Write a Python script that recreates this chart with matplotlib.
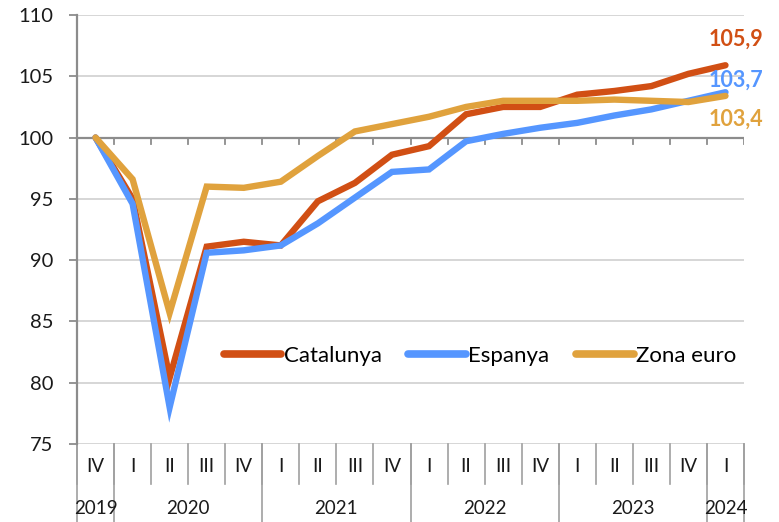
import matplotlib
matplotlib.use('Agg')
import matplotlib.pyplot as plt

plt.rcParams['font.family'] = ['Lato', 'DejaVu Sans']

quarters = ['IV', 'I', 'II', 'III', 'IV', 'I', 'II', 'III', 'IV',
            'I', 'II', 'III', 'IV', 'I', 'II', 'III', 'IV', 'I']
years = ['2019', '2020', '2021', '2022', '2023', '2024']
year_span = [1, 4, 4, 4, 4, 1]   # quarters per year

catalunya = [100.0, 95.0, 80.4, 91.1, 91.5, 91.2, 94.8, 96.3, 98.6,
             99.3, 101.9, 102.5, 102.5, 103.5, 103.8, 104.2, 105.2, 105.9]
espanya = [100.0, 94.6, 78.0, 90.6, 90.8, 91.2, 93.0, 95.1, 97.2,
           97.4, 99.7, 100.3, 100.8, 101.2, 101.8, 102.3, 103.0, 103.7]
zona_euro = [100.0, 96.6, 85.7, 96.0, 95.9, 96.4, 98.5, 100.5, 101.1,
             101.7, 102.5, 103.0, 103.0, 103.0, 103.1, 103.0, 102.9, 103.4]

series = [('Catalunya', catalunya, '#D14F14'),
          ('Espanya', espanya, '#5596FF'),
          ('Zona euro', zona_euro, '#E0A23D')]

fig = plt.figure(figsize=(7.79, 5.22), dpi=100)
W, H = 779, 522
L, R, T, B = 77, 744, 15, 444
ax = fig.add_axes([L / W, 1 - B / H, (R - L) / W, (B - T) / H])

x = [i + 0.5 for i in range(len(quarters))]
for name, vals, col in series:
    ax.plot(x, vals, color=col, lw=4.6, label=name,
            solid_joinstyle='miter', solid_capstyle='round', zorder=3)

ax.set_xlim(0, len(quarters))
ax.set_ylim(75, 110)
ax.set_yticks(range(75, 111, 5))
for v in range(75, 111, 5):
    if v != 100:
        ax.axhline(v, color='#D0D0D0', lw=1.2, zorder=1)
ax.axhline(100, color='#8C8C8C', lw=1.6, zorder=2)

# small ticks on the category axis crossing at 100
gray = '#8C8C8C'
for k in range(1, len(quarters) + 1):
    ax.plot([k, k], [100, 99.5], color=gray, lw=1.3, zorder=2)

for s in ['top', 'right', 'bottom']:
    ax.spines[s].set_visible(False)
ax.spines['left'].set_color(gray)
ax.spines['left'].set_linewidth(1.6)
ax.tick_params(axis='y', length=6, width=1.3, color=gray, pad=11,
               labelsize=14.5, labelcolor='#1A1A1A')
ax.set_xticks([])

# category labels below the plot
tr = ax.get_xaxis_transform()
ax_h = B - T
q_drop = -40 / ax_h
y_drop = -78 / ax_h
for i, q in enumerate(quarters):
    ax.text(i + 0.5, -23 / ax_h, q, transform=tr, ha='center', va='center',
            fontsize=13.5, color='#1A1A1A')
for k in range(0, len(quarters) + 1):
    ax.plot([k, k], [0, q_drop], transform=tr, color='#A0A0A0', lw=1.2,
            clip_on=False)
pos = 0
for yr, n in zip(years, year_span):
    ax.plot([pos, pos], [0, y_drop], transform=tr, color='#A0A0A0', lw=1.2,
            clip_on=False)
    ax.text(pos + n / 2, -65 / ax_h, yr, transform=tr, ha='center',
            va='center', fontsize=13.5, color='#1A1A1A')
    pos += n
ax.plot([pos, pos], [0, y_drop], transform=tr, color='#A0A0A0', lw=1.2,
        clip_on=False)

# last values
for (name, vals, col), ty in zip(series, [108.0, 104.7, 101.5]):
    ax.text(18.52, ty, f'{vals[-1]:.1f}'.replace('.', ','), color=col,
            fontsize=15.5, fontweight='bold', ha='right', va='center',
            clip_on=False)

leg = ax.legend(loc='center', bbox_to_anchor=(0.604, 0.205), ncol=3,
                frameon=False, fontsize=16, handlelength=2.6,
                handletextpad=0.1, columnspacing=1.2)
for h in leg.get_lines():
    h.set_linewidth(5.5)

fig.savefig('out.png', dpi=100)
